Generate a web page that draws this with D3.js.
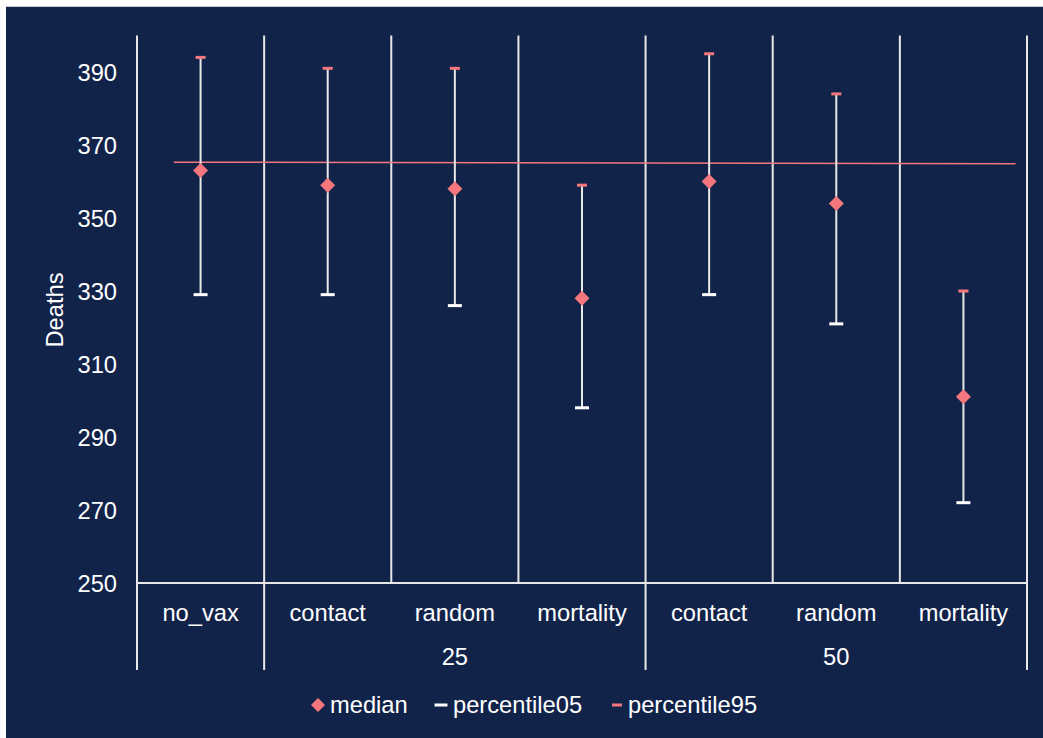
<!DOCTYPE html>
<html><head><meta charset="utf-8">
<script src="https://cdn.jsdelivr.net/npm/d3@7"></script>
<style>
html,body{margin:0;padding:0;background:#fff;}
svg{display:block;}
text{font-family:"Liberation Sans",Arial,sans-serif;fill:#ffffff;}
</style></head>
<body>
<svg id="chart" width="1043" height="738"></svg>
<script>
// ---- data ----
const categories = ["no_vax","contact","random","mortality","contact","random","mortality"];
const groups = [
  {label:"", start:0, end:1},
  {label:"25", start:1, end:4},
  {label:"50", start:4, end:7}
];
const median = [363, 359, 358, 328, 360, 354, 301];
const percentile05 = [329, 329, 326, 298, 329, 321, 272];
const percentile95 = [394, 391, 391, 359, 395, 384, 330];
const refLinePos = [-0.21, 6.41];
const refLineValues = [365.3, 364.85];
const yTicks = [250, 270, 290, 310, 330, 350, 370, 390];
const legendItems = ["median","percentile05","percentile95"];

// ---- style ----
const BG = "#12234a";
const RED = "#f4777d";
const WHITE = "#ffffff";
const GRID = "#e8e8e8";
const FS = 23.7;

const svg = d3.select("#chart");
svg.append("rect").attr("x",6).attr("y",7).attr("width",1037).attr("height",731).attr("fill",BG);
svg.append("line").attr("x1",6).attr("x2",1043).attr("y1",6.5).attr("y2",6.5).attr("stroke","#c8ccd4").attr("stroke-width",1);

const pL = 137, pR = 1027, pT = 35.5, pB = 583;
const x = d3.scaleBand().domain(d3.range(categories.length)).range([pL,pR]).padding(0);
const y = d3.scaleLinear().domain([250,400]).range([pB, pT]);
const xc = i => x(i) + x.bandwidth()/2;
const xPos = p => pL + (p + 0.5) * x.bandwidth();

// vertical gridlines at category boundaries
const bounds = d3.range(categories.length + 1).map(i => pL + i * x.bandwidth());
svg.append("g").selectAll("line").data(bounds).join("line")
  .attr("x1",d=>d).attr("x2",d=>d).attr("y1",pT).attr("y2",pB)
  .attr("stroke",GRID).attr("stroke-width",2);

// group boundary ticks extending below axis
const groupBounds = [groups[0].start].concat(groups.map(g=>g.end));
svg.append("g").selectAll("line").data(groupBounds).join("line")
  .attr("x1",d=>pL + d*x.bandwidth()).attr("x2",d=>pL + d*x.bandwidth())
  .attr("y1",pB).attr("y2",670)
  .attr("stroke",GRID).attr("stroke-width",2);

// x axis line
svg.append("line").attr("x1",pL).attr("x2",pR).attr("y1",pB).attr("y2",pB)
  .attr("stroke",GRID).attr("stroke-width",2);

// y tick labels
const yAxis = d3.axisLeft(y).tickValues(yTicks).tickSize(0).tickPadding(0);
const ya = svg.append("g").attr("transform",`translate(117,0)`).call(yAxis);
ya.select(".domain").remove();
ya.selectAll("text").attr("font-size",FS).attr("fill",WHITE).attr("dy","0.35em")
  .style("font-family","Liberation Sans, Arial, sans-serif");

// y title
svg.append("text").attr("transform","translate(63,310) rotate(-90)")
  .attr("text-anchor","middle").attr("font-size",FS).text("Deaths");

// category labels
svg.append("g").selectAll("text").data(categories).join("text")
  .attr("x",(d,i)=>xc(i)).attr("y",613).attr("dy","0.35em")
  .attr("text-anchor","middle").attr("font-size",FS).text(d=>d);

// group labels
svg.append("g").selectAll("text").data(groups.filter(g=>g.label)).join("text")
  .attr("x",g=>pL + (g.start+g.end)/2*x.bandwidth()).attr("y",657).attr("dy","0.35em")
  .attr("text-anchor","middle").attr("font-size",FS).text(g=>g.label);

// reference line
svg.append("line")
  .attr("x1",xPos(refLinePos[0])).attr("x2",xPos(refLinePos[1]))
  .attr("y1",y(refLineValues[0])).attr("y2",y(refLineValues[1]))
  .attr("stroke",RED).attr("stroke-width",1.5);

// error bars
const eg = svg.append("g");
eg.selectAll("line.err").data(median).join("line").attr("class","err")
  .attr("x1",(d,i)=>xc(i)).attr("x2",(d,i)=>xc(i))
  .attr("y1",(d,i)=>y(percentile95[i])).attr("y2",(d,i)=>y(percentile05[i]))
  .attr("stroke",GRID).attr("stroke-width",2);
eg.selectAll("rect.p05").data(percentile05).join("rect").attr("class","p05")
  .attr("x",(d,i)=>xc(i)-7).attr("width",14).attr("y",d=>y(d)-1.5).attr("height",3)
  .attr("fill",WHITE);
eg.selectAll("rect.p95").data(percentile95).join("rect").attr("class","p95")
  .attr("x",(d,i)=>xc(i)-5).attr("width",10).attr("y",d=>y(d)-1.5).attr("height",3)
  .attr("fill",RED);

// median diamonds
const diamond = s => `M0,${-s}L${s},0L0,${s}L${-s},0Z`;
eg.selectAll("path.med").data(median).join("path").attr("class","med")
  .attr("transform",(d,i)=>`translate(${xc(i)},${y(d)})`)
  .attr("d",diamond(7.5)).attr("fill",RED);

// legend
const lg = svg.append("g").attr("transform","translate(0,705)");
const lx = [318, 441, 617];
const tx = [330, 453, 628];
lg.append("path").attr("transform",`translate(${lx[0]},0)`).attr("d",diamond(7)).attr("fill",RED);
lg.append("rect").attr("x",lx[1]-6.5).attr("y",-1.5).attr("width",13).attr("height",3).attr("fill",WHITE);
lg.append("rect").attr("x",lx[2]-5).attr("y",-1.5).attr("width",10).attr("height",3).attr("fill",RED);
lg.selectAll("text").data(legendItems).join("text")
  .attr("x",(d,i)=>tx[i]).attr("y",0).attr("dy","0.35em").attr("font-size",FS).text(d=>d);
</script>
</body></html>
